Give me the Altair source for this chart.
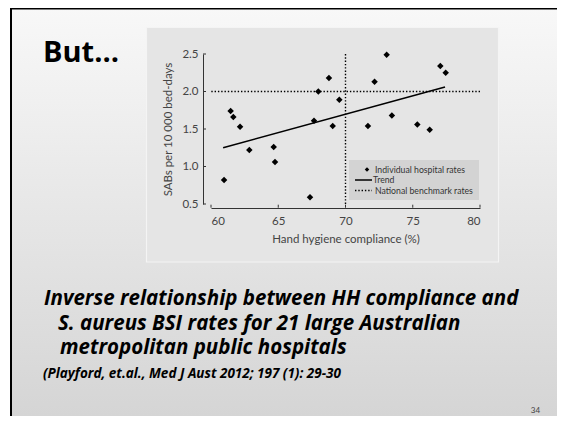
import altair as alt
import pandas as pd

# ---- data ----
compliance = [60.97, 61.46, 61.66, 62.16, 62.85, 64.66, 64.76, 67.36, 67.66, 67.98, 68.77,
              69.05, 69.54, 71.67, 72.16, 73.06, 73.45, 75.34, 76.26, 77.05, 77.45]
sab_rates = [0.82, 1.74, 1.66, 1.53, 1.22, 1.26, 1.06, 0.59, 1.61, 2.00, 2.18,
             1.54, 1.89, 1.54, 2.13, 2.49, 1.68, 1.56, 1.49, 2.34, 2.25]
trend_x = [60.9, 77.4]
trend_y = [1.25, 2.06]
benchmark_rate = [2.0]
benchmark_compliance = [70]
x_ticks = [60, 65, 70, 75, 80]
y_ticks = [0.5, 1.0, 1.5, 2.0, 2.5]

slide_title = "But…"
caption_lines = [
    "Inverse relationship between HH compliance and",
    "S. aureus BSI rates for 21 large Australian",
    "metropolitan public hospitals",
]
citation = "(Playford, et.al., Med J Aust 2012; 197 (1): 29-30"
page_no = "34"
legend_labels = ["Individual hospital rates", "Trend", "National benchmark rates"]

# ---- tables ----
pts = pd.DataFrame({"x": compliance, "y": sab_rates})
trend = pd.DataFrame({"x": trend_x, "y": trend_y})
xt = pd.DataFrame({"x": x_ticks})
yt = pd.DataFrame({"y": y_ticks})
one = alt.Data(values=[{"a": 1}])

W, H = 269, 150
FONT = "Lato"
SLIDE_FONT = "Open Sans"

x_scale = alt.Scale(domain=[60, 80], nice=False, zero=False)
y_scale = alt.Scale(domain=[0.5, 2.5], nice=False, zero=False)
x_axis = alt.Axis(values=x_ticks, format="d", title="Hand hygiene compliance (%)",
                  offset=4, ticks=False, tickSize=0, labelPadding=7, titlePadding=7,
                  domainColor="#333333", labelColor="#444444", titleColor="#444444",
                  labelFont=FONT, titleFont=FONT, labelFontSize=11.5, titleFontSize=11.5,
                  titleFontWeight="normal", grid=False, zindex=1)
y_axis = alt.Axis(values=y_ticks, format=".1f", title="SABs per 10 000 bed-days",
                  offset=8, ticks=False, tickSize=0, labelPadding=5, titlePadding=8,
                  domainColor="#333333", labelColor="#444444", titleColor="#444444",
                  labelFont=FONT, titleFont=FONT, labelFontSize=11.5, titleFontSize=11.5,
                  titleFontWeight="normal", grid=False, zindex=1)

X = lambda: alt.X("x:Q", scale=x_scale, axis=x_axis)
Y = lambda: alt.Y("y:Q", scale=y_scale, axis=y_axis)

# slide background (gradient) and border
bg = alt.Chart(one).mark_rect(
    fill=alt.Gradient(gradient="linear",
                      stops=[alt.GradientStop(color="#f8f8f8", offset=0),
                             alt.GradientStop(color="#d0d0d0", offset=1)],
                      x1=0, x2=0, y1=0, y2=1)
).encode(x=alt.value(-200), x2=alt.value(400), y=alt.value(-46), y2=alt.value(420))
border_top = alt.Chart(one).mark_rect(color="black").encode(
    x=alt.value(-201), x2=alt.value(400), y=alt.value(-46), y2=alt.value(-44.5))
border_left = alt.Chart(one).mark_rect(color="black").encode(
    x=alt.value(-201), x2=alt.value(-199), y=alt.value(-46), y2=alt.value(420))

panel = alt.Chart(one).mark_rect(fill="#e5e5e5", stroke="#f4f4f4", strokeWidth=1.2).encode(
    x=alt.value(-64.5), x2=alt.value(287.5), y=alt.value(-26.5), y2=alt.value(208))

legend_box = alt.Chart(one).mark_rect(fill="#d3d3d3").encode(
    x=alt.value(138), x2=alt.value(268), y=alt.value(106), y2=alt.value(146))

bench_h = alt.Chart(pd.DataFrame({"y": benchmark_rate})).mark_rule(
    color="black", strokeWidth=1.4, strokeDash=[1.4, 1.9]).encode(y=Y())
bench_v = alt.Chart(pd.DataFrame({"x": benchmark_compliance})).mark_rule(
    color="black", strokeWidth=1.4, strokeDash=[1.4, 1.9]).encode(x=X())

trend_line = alt.Chart(trend).mark_line(color="black", strokeWidth=1.6).encode(x=X(), y=Y())

points = alt.Chart(pts).mark_point(shape="diamond", filled=True, color="black",
                                   opacity=1, size=42).encode(x=X(), y=Y())

x_tick_marks = alt.Chart(xt).mark_rule(color="#333333", strokeWidth=1).encode(
    x=X(), y=alt.value(153.7), y2=alt.value(150.7))
y_tick_marks = alt.Chart(yt).mark_rule(color="#333333", strokeWidth=1).encode(
    y=Y(), x=alt.value(-8), x2=alt.value(-5))

# legend contents
leg_diamond = alt.Chart(one).mark_point(shape="diamond", filled=True, color="black",
                                        opacity=1, size=20).encode(
    x=alt.value(156), y=alt.value(115.5))
leg_trend = alt.Chart(one).mark_rule(color="black", strokeWidth=1.5).encode(
    x=alt.value(144), x2=alt.value(161), y=alt.value(126))
leg_bench = alt.Chart(one).mark_rule(color="black", strokeWidth=1.4, strokeDash=[1.4, 1.9]).encode(
    x=alt.value(144), x2=alt.value(161), y=alt.value(136.5))


def txt(text, x, y, size, color="#333333", weight="normal", style="normal",
        align="left", baseline="middle", font=FONT):
    return alt.Chart(one).mark_text(
        text=text, align=align, baseline=baseline, fontSize=size, font=font,
        fontWeight=weight, fontStyle=style, color=color
    ).encode(x=alt.value(x), y=alt.value(y))


leg_t1 = txt(legend_labels[0], 164, 115.5, 8.7)
leg_t2 = txt(legend_labels[1], 162, 126, 8.7)
leg_t3 = txt(legend_labels[2], 164, 136.5, 8.7)

title_txt = txt(slide_title, -168, 7.7, 29, color="black", weight="bold",
                baseline="alphabetic", font=SLIDE_FONT)

cap_kw = dict(color="black", weight="bold", style="italic", baseline="alphabetic",
              font=SLIDE_FONT)
cap1 = txt(caption_lines[0], -167, 251, 20.5, **cap_kw)
cap2 = txt(caption_lines[1], -153, 275.5, 20.5, **cap_kw)
cap3 = txt(caption_lines[2], -151, 300, 20.5, **cap_kw)
cite = txt(citation, -168, 324, 13.5, **cap_kw)
pnum = txt(page_no, 324.5, 357, 8, color="#444444", align="center")

chart = alt.layer(
    bg, border_top, border_left, panel, legend_box,
    bench_h, bench_v, trend_line, points, x_tick_marks, y_tick_marks,
    leg_diamond, leg_trend, leg_bench, leg_t1, leg_t2, leg_t3,
    title_txt, cap1, cap2, cap3, cite, pnum,
).properties(
    width=W, height=H,
    autosize=alt.AutoSizeParams(type="none"),
    padding={"left": 203, "top": 46, "right": 77, "bottom": 212},
    background="white",
).configure_view(stroke=None)

chart.save("out.html", embed_options={"renderer": "svg", "actions": False})
